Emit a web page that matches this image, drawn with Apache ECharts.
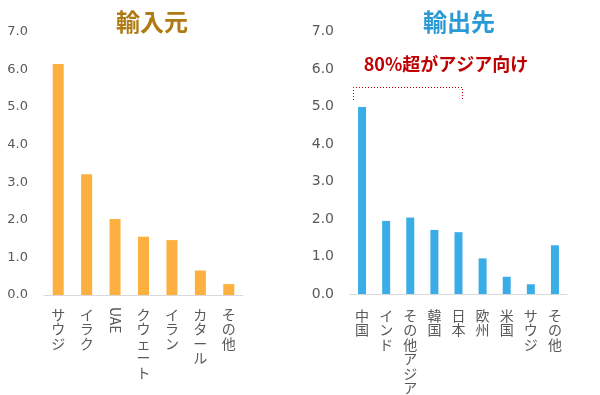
<!DOCTYPE html>
<html><head><meta charset="utf-8">
<script src="https://cdn.jsdelivr.net/npm/echarts@6/dist/echarts.min.js"></script>
<style>html,body{margin:0;padding:0;background:#fff}#c{width:600px;height:395px}</style>
</head><body><div id="c"></div>
<script>
const importCats = ['サウジ','イラク','UAE','クウェート','イラン','カタール','その他'];
const importVals = [6.14, 3.21, 2.02, 1.55, 1.46, 0.65, 0.29];
const exportCats = ['中国','インド','その他アジア','韓国','日本','欧州','米国','サウジ','その他'];
const exportVals = [4.99, 1.95, 2.04, 1.71, 1.65, 0.95, 0.46, 0.26, 1.30];
const yTicks = [0, 1, 2, 3, 4, 5, 6, 7];
const titleImport = '輸入元';
const titleExport = '輸出先';
const noteText = '80%超がアジア向け';

const JP = '"Noto Sans CJK JP", sans-serif';
const NUM = '"DejaVu Sans", sans-serif';
const vert = s => s.split('').join('\n');
const isLatin = s => /^[A-Za-z]+$/.test(s);

const chart = echarts.init(document.getElementById('c'), null, {renderer:'canvas'});
const yAxisBase = (gi, fs) => ({
  type:'value', gridIndex:gi, min:yTicks[0], max:yTicks[yTicks.length-1], interval:1,
  axisLine:{show:false}, axisTick:{show:false}, splitLine:{show:false},
  axisLabel:{color:'#595959', fontSize:fs, fontFamily:NUM, margin:16, formatter:v=>v.toFixed(1)}
});
const xLabel = {color:'#595959', fontSize:14, fontFamily:JP, lineHeight:14.5, margin:12,
  verticalAlign:'top', interval:0};
chart.setOption({
  animation:false,
  grid:[
    {left:44, right:357, top:31.7, bottom:100},
    {left:350, right:33, top:31.7, bottom:98.5}
  ],
  xAxis:[
    {type:'category', gridIndex:0, data:importCats,
     axisLine:{lineStyle:{color:'#d9d9d9'}}, axisTick:{show:false},
     axisLabel:Object.assign({}, xLabel, {formatter:v=>isLatin(v)?'':vert(v)})},
    {type:'category', gridIndex:0, data:importCats, position:'bottom',
     axisLine:{show:false}, axisTick:{show:false},
     axisLabel:{color:'#595959', fontSize:14, fontFamily:JP, margin:12, rotate:-90, interval:0,
       formatter:v=>isLatin(v)?v:''}},
    {type:'category', gridIndex:1, data:exportCats,
     axisLine:{lineStyle:{color:'#d9d9d9'}}, axisTick:{show:false},
     axisLabel:Object.assign({}, xLabel, {margin:14, formatter:v=>vert(v)})}
  ],
  yAxis:[yAxisBase(0, 13), yAxisBase(1, 14)],
  series:[
    {type:'bar', xAxisIndex:0, yAxisIndex:0, data:importVals, barWidth:11,
     itemStyle:{color:'#FBB040'}},
    {type:'bar', xAxisIndex:2, yAxisIndex:1, data:exportVals, barWidth:8,
     itemStyle:{color:'#3AADE8'}}
  ],
  graphic:[
    {type:'text', x:152, y:10, style:{text:titleImport, fill:'#B07A12',
      font:'bold 24px '+JP, textAlign:'center'}},
    {type:'text', x:459, y:10, style:{text:titleExport, fill:'#2A9AD6',
      font:'bold 24px '+JP, textAlign:'center'}},
    {type:'text', x:446, y:55, style:{text:noteText, fill:'#C00000',
      font:'bold 18px '+JP, textAlign:'center'}},
    {type:'polyline', shape:{points:[[353.5,100],[353.5,87.5],[462.5,87.5],[462.5,100]]},
     style:{stroke:'#C00000', lineWidth:1, lineDash:[1,2], fill:null}}
  ]
});
</script></body></html>
